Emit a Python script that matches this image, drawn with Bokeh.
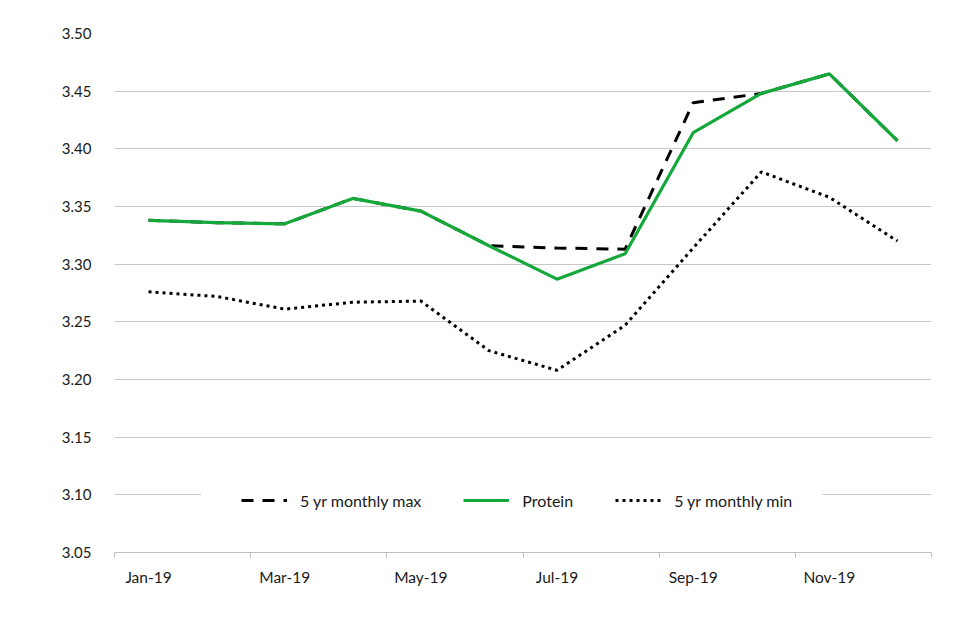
from bokeh.plotting import figure
from bokeh.models import FixedTicker, Legend, LegendItem, NumeralTickFormatter, Range1d, BoxAnnotation
from bokeh.embed import file_html
from bokeh.resources import INLINE

months = ["Jan-19", "Feb-19", "Mar-19", "Apr-19", "May-19", "Jun-19",
          "Jul-19", "Aug-19", "Sep-19", "Oct-19", "Nov-19", "Dec-19"]
protein = [3.338, 3.336, 3.335, 3.357, 3.346, 3.316, 3.287, 3.309, 3.414, 3.448, 3.465, 3.407]
max5 = [3.338, 3.336, 3.335, 3.357, 3.346, 3.316, 3.314, 3.313, 3.440, 3.448, 3.465, 3.407]
min5 = [3.276, 3.272, 3.261, 3.267, 3.268, 3.225, 3.208, 3.247, 3.314, 3.380, 3.358, 3.320]
y_ticks = [3.05, 3.10, 3.15, 3.20, 3.25, 3.30, 3.35, 3.40, 3.45, 3.50]

x = list(range(len(months)))

p = figure(width=944, height=624, output_backend="svg", toolbar_location=None,
           x_range=Range1d(-0.5, len(months) - 0.5), y_range=Range1d(3.05, 3.50),
           min_border_left=114, min_border_right=13, min_border_top=33, min_border_bottom=72)
p.outline_line_color = None
p.background_fill_color = "white"
p.border_fill_color = "white"

FONT = "Lato"

# x axis
label_idx = x[::2]
p.xaxis.ticker = FixedTicker(ticks=label_idx, minor_ticks=[i - 0.5 for i in range(0, len(months) + 1, 2)])
p.xaxis.major_label_overrides = {i: months[i] for i in label_idx}
p.xaxis.major_tick_out = 0
p.xaxis.major_tick_in = 0
p.xaxis.minor_tick_out = 5
p.xaxis.minor_tick_in = 0
p.xaxis.minor_tick_line_color = "#bfbfbf"
p.xaxis.axis_line_color = "#bfbfbf"
p.xaxis.major_label_standoff = 10
p.xaxis.major_label_text_font = FONT
p.xaxis.major_label_text_font_size = "15.5px"
p.xaxis.major_label_text_color = "#1a1a1a"
p.xgrid.grid_line_color = None

# y axis
p.yaxis.ticker = FixedTicker(ticks=y_ticks)
p.yaxis.formatter = NumeralTickFormatter(format="0.00")
p.yaxis.axis_line_color = None
p.yaxis.major_tick_line_color = None
p.yaxis.minor_tick_line_color = None
p.yaxis.major_label_standoff = 17
p.yaxis.major_label_text_font = FONT
p.yaxis.major_label_text_font_size = "15px"
p.yaxis.major_label_text_color = "#1a1a1a"
p.ygrid.grid_line_color = "#c8c8c8"
p.ygrid.grid_line_width = 1

# white panel behind the legend (covers the gridline as in the original)
p.add_layout(BoxAnnotation(left=0.77, right=9.9, bottom=3.092, top=3.108,
                           fill_color="white", fill_alpha=1, line_color=None, level="underlay"))

r_min = p.line(x, min5, line_color="black", line_width=3, line_dash="3 4")
r_max = p.line(x, max5, line_color="black", line_width=3, line_dash="12 9")
r_pro = p.line(x, protein, line_color="#14a83a", line_width=3.2)

legend = Legend(items=[LegendItem(label="5 yr monthly max", renderers=[r_max]),
                       LegendItem(label="Protein", renderers=[r_pro]),
                       LegendItem(label="5 yr monthly min", renderers=[r_min])],
                orientation="horizontal", location=(127, 42),
                padding=0, margin=0, spacing=42, glyph_width=46, label_standoff=13,
                border_line_color=None, background_fill_color="white", background_fill_alpha=1,
                label_text_font=FONT, label_text_font_size="16px", label_text_color="#1a1a1a")
p.add_layout(legend, "center")

open("out.html", "w").write(file_html(p, INLINE))
